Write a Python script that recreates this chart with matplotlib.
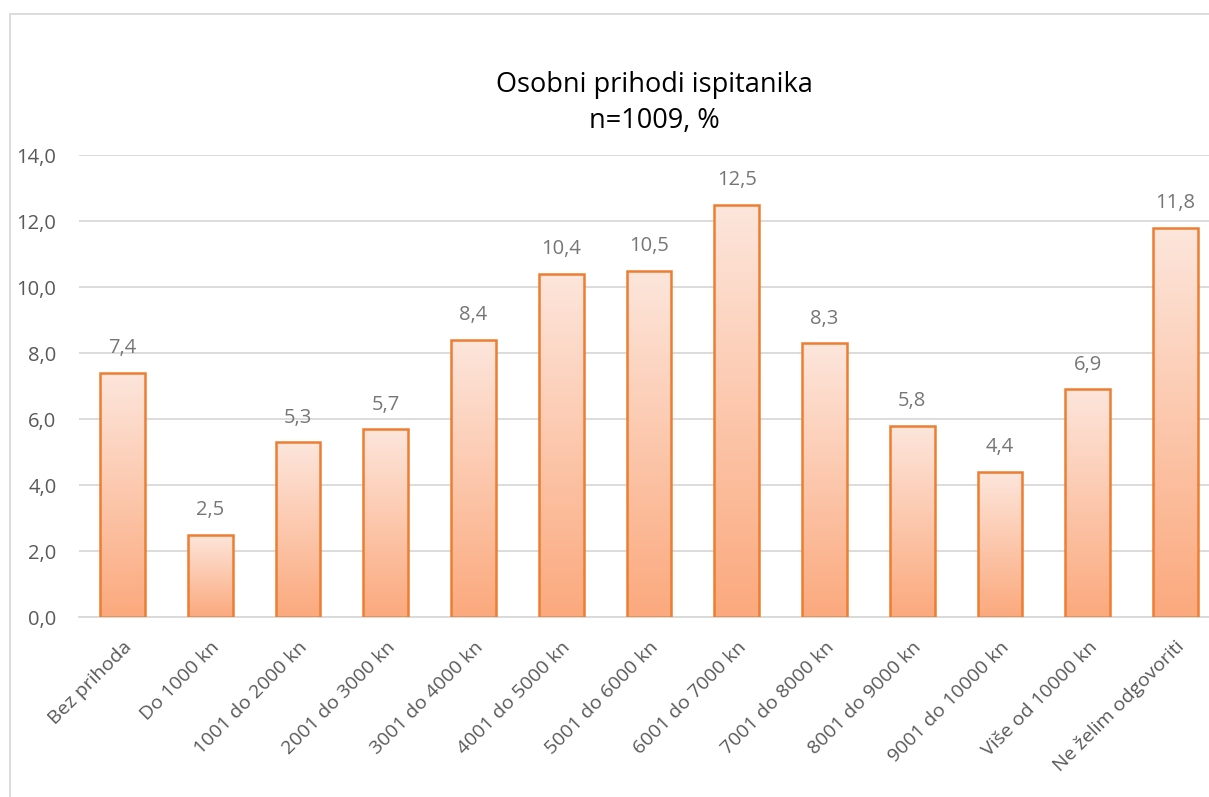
import numpy as np
import matplotlib
matplotlib.use('Agg')
from matplotlib import pyplot as plt
from matplotlib.colors import LinearSegmentedColormap
from matplotlib.patches import Rectangle

# podaci
categories = ['Bez prihoda', 'Do 1000 kn', '1001 do 2000 kn', '2001 do 3000 kn',
              '3001 do 4000 kn', '4001 do 5000 kn', '5001 do 6000 kn',
              '6001 do 7000 kn', '7001 do 8000 kn', '8001 do 9000 kn',
              '9001 do 10000 kn', 'Više od 10000 kn', 'Ne želim odgovoriti']
values = [7.4, 2.5, 5.3, 5.7, 8.4, 10.4, 10.5, 12.5, 8.3, 5.8, 4.4, 6.9, 11.8]
yticks = [0, 2, 4, 6, 8, 10, 12, 14]

plt.rcParams['font.family'] = ['Open Sans', 'DejaVu Sans']

fig = plt.figure(figsize=(12.09, 7.97), dpi=100)
# okvir grafikona (vidljivi samo lijevi i gornji rub)
fig.patches.append(Rectangle((10 / 1209, -0.2), 1.2, 1.2 - 14 / 797, transform=fig.transFigure,
                             fill=False, edgecolor='#d9d9d9', linewidth=1.3))
ax = fig.add_axes([78.6 / 1209, 180 / 797, 1140.8 / 1209, 462 / 797])

x = np.arange(len(categories))
bars = ax.bar(x, values, width=0.51, facecolor='none', edgecolor='#ed7d31',
              linewidth=1.8, zorder=3)

# gradijent u stupcima
cmap = LinearSegmentedColormap.from_list('grad', ['#fba97d', '#fde6dc'])
grad = np.linspace(0, 1, 256).reshape(-1, 1)
for b in bars:
    bx, by, bw, bh = b.get_x(), b.get_y(), b.get_width(), b.get_height()
    im = ax.imshow(grad, cmap=cmap, origin='lower', aspect='auto',
                   extent=(bx, bx + bw, by, by + bh), zorder=2)
    im.set_clip_path(b)

for xi, v in zip(x, values):
    ax.annotate(f'{v:.1f}'.replace('.', ','), (xi, v), xytext=(0, 17.5),
                textcoords='offset points', ha='center', va='center',
                fontsize=14.5, color='#767676')

ax.set_xlim(-0.5, len(categories) - 0.5)
ax.set_ylim(0, 14)
ax.set_yticks(yticks)
ax.set_yticklabels([f'{t:.1f}'.replace('.', ',') for t in yticks],
                   fontsize=14.5, color='#595959')
ax.set_xticks(x)
ax.set_xticklabels(categories, rotation=45, ha='right', rotation_mode='anchor',
                   fontsize=14, color='#595959')
ax.tick_params(axis='both', length=0)
ax.tick_params(axis='y', pad=16)
ax.tick_params(axis='x', pad=15)
ax.grid(axis='y', color='#d9d9d9', linewidth=1.3, zorder=0)
ax.set_axisbelow(True)
for s in ['top', 'right', 'left']:
    ax.spines[s].set_visible(False)
ax.spines['bottom'].set_color('#d9d9d9')
ax.spines['bottom'].set_linewidth(1.3)

fig.text(0.541, 1 - 103 / 797, 'Osobni prihodi ispitanika\nn=1009, %', ha='center',
         va='center', fontsize=19.5, color='black', linespacing=1.37)

fig.savefig('out.png', dpi=100)
